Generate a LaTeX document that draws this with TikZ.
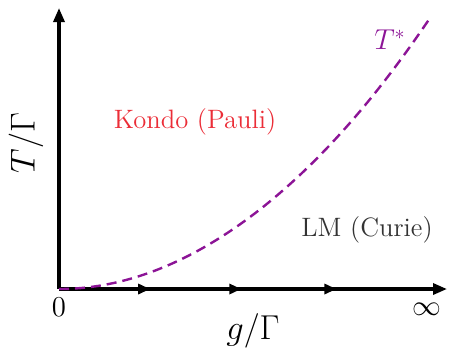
\documentclass[tikz,border=0pt]{standalone}
\usepackage{fontspec}
\usepackage{xcolor}
\usetikzlibrary{arrows.meta, decorations.markings}

\definecolor{kondored}{RGB}{235,45,55}
\definecolor{starpurple}{RGB}{140,20,150}

\begin{document}
\begin{tikzpicture}[
    x=0.5pt, y=-0.5pt,
    axis/.style={line width=1.6pt, -{Triangle[length=7pt, width=5.5pt]}},
    flow/.style={postaction={decorate}, decoration={markings,
        mark=at position 0.235 with {\arrow{Triangle[length=6pt, width=5pt]}},
        mark=at position 0.47 with {\arrow{Triangle[length=6pt, width=5pt]}},
        mark=at position 0.715 with {\arrow{Triangle[length=6pt, width=5pt]}}}},
    crossover/.style={starpurple, line width=1.2pt, dash pattern=on 5pt off 3pt},
    lbl/.style={font=\fontsize{13.3}{15}\selectfont, inner sep=0pt},
    axlbl/.style={font=\fontsize{16}{18}\selectfont, inner sep=0pt},
    endlbl/.style={font=\fontsize{14.4}{16}\selectfont, inner sep=0pt}
  ]
  \useasboundingbox (0,0) rectangle (449,350);

  \coordinate (origin) at (59,289);
  \coordinate (ytop)   at (59,8);
  \coordinate (xend)   at (447,289);
  \coordinate (tend)   at (430,18);

  % axes
  \draw[axis] (origin) -- (ytop);
  \draw[axis, flow] (origin) -- (xend);

  % crossover scale
  \draw[crossover] (origin) parabola (tend);

  % labels
  \node[endlbl] (zero) at (59,307) {$0$};
  \node[endlbl] (inf)  at (427,309) {$\infty$};
  \node[axlbl] (xlab) at (253,331) {$g/\Gamma$};
  \node[axlbl, rotate=90] (ylab) at (26,143) {$T/\Gamma$};
  \node[lbl, text=kondored] (kondo) at (195,122) {Kondo (Pauli)};
  \node[lbl, text=black!80] (lm) at (367,230) {LM (Curie)};
  \node[endlbl, text=starpurple] (tstar) at (390,40) {$T^*$};
\end{tikzpicture}
\end{document}
